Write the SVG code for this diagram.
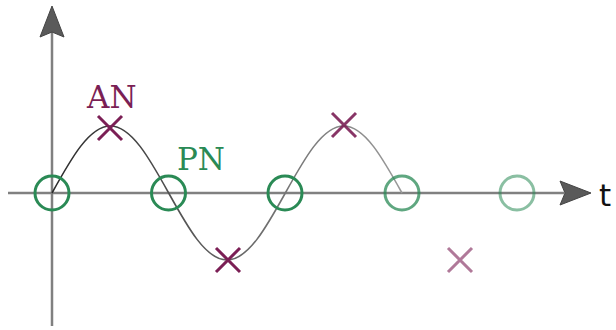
<svg xmlns="http://www.w3.org/2000/svg" width="616" height="330" viewBox="0 0 616 330">
  <defs>
    <linearGradient id="waveFade" gradientUnits="userSpaceOnUse" x1="52" y1="0" x2="402" y2="0">
      <stop offset="0" stop-color="#2b2b2b"/>
      <stop offset="1" stop-color="#9a9a9a"/>
    </linearGradient>
    <path id="arrowHead" d="M0,0 L-12,31 L0,26 L12,31 Z"/>
  </defs>
  <style>
    .axis { stroke: #808080; stroke-width: 2.5; fill: none; }
    .head { fill: #5a5a5a; stroke: #444; stroke-width: 1; }
    .wave { stroke: url(#waveFade); stroke-width: 1.6; fill: none; }
    .pn circle { fill: none; stroke: #2a8a55; stroke-width: 3; }
    .an path { fill: none; stroke: #7b1f55; stroke-width: 3; }
    .lbl { font-family: "DejaVu Serif", serif; font-size: 31px; }
  </style>

  <!-- axes -->
  <g id="axes">
    <line class="axis" x1="52" y1="326" x2="52" y2="30"/>
    <line class="axis" x1="8" y1="193" x2="564" y2="193"/>
    <use href="#arrowHead" class="head" transform="translate(52,6)"/>
    <use href="#arrowHead" class="head" transform="translate(591,193) rotate(90)"/>
    <text x="599" y="206" font-family="'DejaVu Sans', sans-serif" font-size="31" fill="#111">t</text>
  </g>

  <!-- sine wave -->
  <g id="connectors">
    <path class="wave" d="M52,193 C71.03,158.68 89.23,126 110.33,126 C131.43,126 149.64,158.68 168.67,193 C187.70,227.32 205.90,260 227,260 C248.10,260 266.30,227.32 285.33,193 C304.36,158.68 322.56,126 343.67,126 C364.77,126 382.97,158.68 402,193"/>
  </g>

  <!-- zero crossings -->
  <g id="zeros" class="pn">
    <circle cx="52" cy="193" r="17"/>
    <circle cx="168.5" cy="193" r="17"/>
    <circle cx="285" cy="193" r="17"/>
    <circle cx="402" cy="193" r="17" opacity="0.75"/>
    <circle cx="517" cy="193" r="17" opacity="0.55"/>
  </g>

  <!-- extrema -->
  <g id="extrema" class="an">
    <path d="M98,116 L122,140 M122,116 L98,140"/>
    <path d="M216,248 L240,272 M240,248 L216,272"/>
    <path d="M332,113 L356,137 M356,113 L332,137" opacity="0.9"/>
    <path d="M448,248 L472,272 M472,248 L448,272" opacity="0.6"/>
  </g>

  <g id="labels">
    <text class="lbl" x="87" y="108" fill="#7b1f55">AN</text>
    <text class="lbl" x="177" y="170" fill="#2a8a55">PN</text>
  </g>
</svg>
